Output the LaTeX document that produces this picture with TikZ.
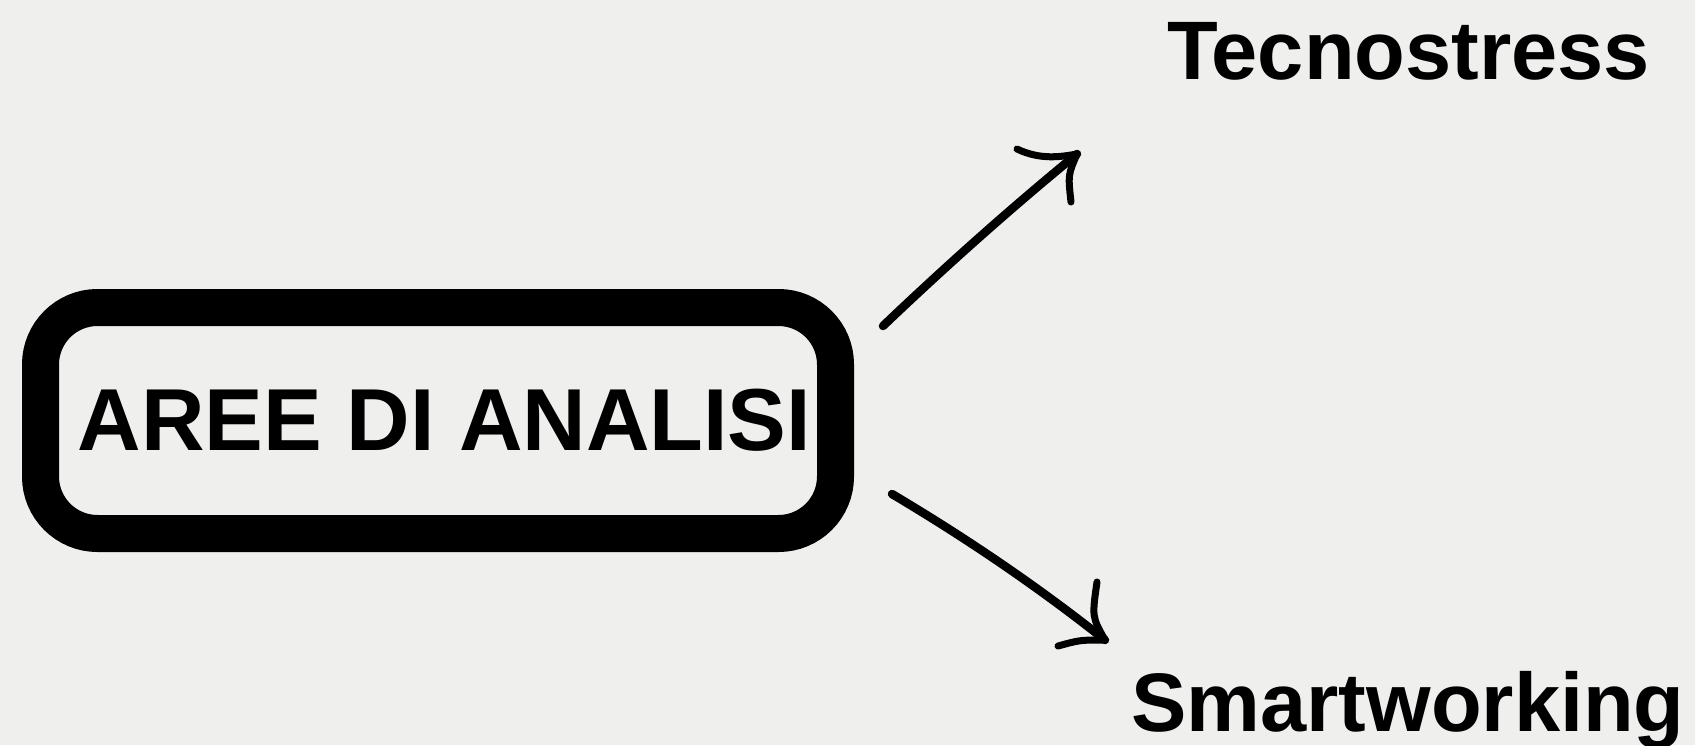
\documentclass[tikz,border=0pt]{standalone}
\usepackage{fontspec}
\setmainfont{Liberation Sans}
\definecolor{bg}{RGB}{239,239,238}
\tikzset{
  bigtitle/.style={font=\bfseries\fontsize{83}{99}\selectfont, inner sep=0pt, anchor=base west},
  boxstyle/.style={draw=black, line width=37pt, rounded corners=57pt, minimum width=795pt, minimum height=226pt, inner sep=0pt, font=\bfseries\fontsize{88}{105}\selectfont},
  brush/.style={draw=black, line width=8.5pt, line cap=round, line join=round},
  barb/.style={draw=black, line width=7pt, line cap=round, line join=round},
}
\begin{document}
\begin{tikzpicture}[x=1pt, y=-1pt]
\fill[bg] (0,0) rectangle (1695,745);
\useasboundingbox (0,0) rectangle (1695,745);

\node[boxstyle] (aree) at (438,420.5) {\hspace*{13pt}AREE DI ANALISI};
\node[bigtitle] (tecno) at (1167,79) {Tecnostress};
\node[bigtitle] (smart) at (1131,731) {Smartworking};

% upper arrow
\coordinate (a1s) at (883,326);
\coordinate (a1t) at (1077,154);
\coordinate (a1b1) at (1017,149);
\coordinate (a1b2) at (1071,202);
\draw[brush] (a1s) .. controls (946,266) and (1011,208) .. (a1t);
\draw[barb] (a1b1) .. controls (1040,160) and (1060,157) .. (a1t);
\draw[barb] (a1t) .. controls (1068,175) .. (a1b2);

% lower arrow
\coordinate (a2s) at (892,494);
\coordinate (a2t) at (1105,640);
\coordinate (a2b1) at (1097,582);
\coordinate (a2b2) at (1058,646);
\draw[brush] (a2s) .. controls (966,538) and (1037,586) .. (a2t);
\draw[barb] (a2t) .. controls (1092,617) .. (a2b1);
\draw[barb] (a2t) .. controls (1080,640) .. (a2b2);
\end{tikzpicture}
\end{document}
